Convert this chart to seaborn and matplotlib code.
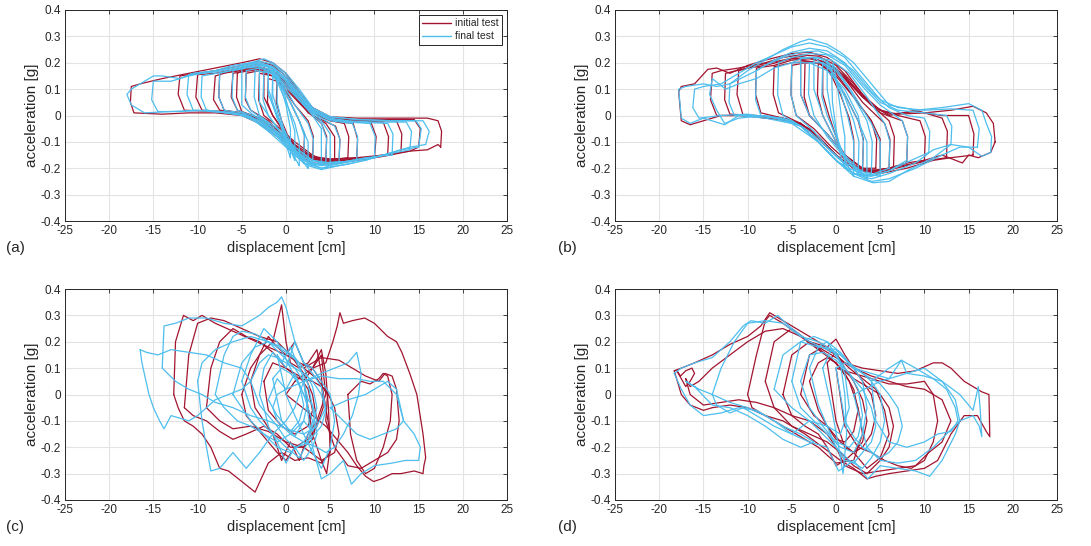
import numpy as np
import pandas as pd
import matplotlib
matplotlib.use("Agg")
import matplotlib.pyplot as plt
from matplotlib.lines import Line2D
import seaborn as sns

# --- colours / labels ---
RED = "#A2142F"
BLUE = "#4DBEEE"
SERIES = ["initial test", "final test"]
PANELS = ["(a)", "(b)", "(c)", "(d)"]
X_TICKS = [-25, -20, -15, -10, -5, 0, 5, 10, 15, 20, 25]
Y_TICKS = [-0.4, -0.3, -0.2, -0.1, 0, 0.1, 0.2, 0.3, 0.4]
Y_TICK_LABELS = ["-0.4", "-0.3", "-0.2", "-0.1", "0", "0.1", "0.2", "0.3", "0.4"]

# --- panel (a): loops (displacement cm, acceleration g) ---
a_init_x = [
    [17.5, 17.6, 17.2, 16, 12, 8, 5, 3, 1.5, 0, -1.5, -3, -5, -8, -11, -14, -16.5, -17.5, -17.6, -17.2, -14, -11, -8, -5, -3, -1, 1, 3, 5, 8, 11, 14, 16, 17.2, 17.5],
    [15, 15.2, 14.5, 12, 8, 5, 3, 1.5, 0, -1.5, -3, -5, -8, -11, -12, -12.2, -11.5, -8, -5, -3, -1, 1, 3, 5, 8, 11, 14, 15],
    [13, 13.1, 12.5, 10, 7, 5, 3, 1.5, 0, -1.5, -3, -5, -8, -10, -10.2, -9.5, -7, -5, -3, -1, 1, 3, 5, 8, 11, 13],
    [11.5, 11.6, 11, 8, 5, 3, 1.5, 0, -1.5, -3, -5, -5.5, -5.6, -5, -3, -1, 1, 3, 5, 8, 11.5],
    [10, 10.2, 9.6, 7, 5, 3, 1.5, 0, -1.5, -3, -5, -7, -8, -8.2, -7.5, -5, -3, -1, 1, 3, 5, 8, 10],
    [8, 8.1, 7.6, 5, 3, 1.5, 0, -1.5, -3, -5, -6, -6.2, -5.5, -3, -1, 1, 3, 5, 8],
    [7, 7.1, 6.6, 5, 3, 1.5, 0, -1.5, -3, -5, -7.5, -7.6, -7, -5, -3, -1, 1, 3, 5, 7],
    [6, 6.1, 5.6, 3, 1.5, 0, -1.5, -3, -4.5, -4.6, -4, -2, 0, 2, 4, 6],
    [5.5, 5.5, 4.5, 2.5, 0.5, -1, -2.5, -2.5, -1.5, 0.5, 2.5, 4, 5.5],
    [4.5, 4.6, 4, 2, 0, -1.5, -3, -3.1, -2.5, -1, 1, 3, 4.5],
    [3, 3.1, 2.5, 1, 0, -1, -2, -2.1, -1.5, 0, 1.5, 3],
    [2, 2.1, 1.5, 0.5, -0.5, -1, -1.1, -0.5, 0.5, 1.5, 2],
]
a_init_y = [
    [-0.12, -0.06, -0.02, -0.01, -0.01, -0.01, -0.005, 0.03, 0.09, 0.16, 0.2, 0.215, 0.2, 0.18, 0.16, 0.14, 0.12, 0.11, 0.05, 0.01, 0.005, 0.01, 0.01, 0.0, -0.03, -0.08, -0.14, -0.18, -0.185, -0.17, -0.155, -0.135, -0.13, -0.11, -0.12],
    [-0.12, -0.05, -0.015, -0.015, -0.015, -0.01, 0.02, 0.08, 0.15, 0.19, 0.205, 0.19, 0.17, 0.155, 0.15, 0.08, 0.02, 0.015, 0.005, -0.02, -0.07, -0.13, -0.17, -0.175, -0.165, -0.15, -0.135, -0.12],
    [-0.14, -0.07, -0.02, -0.02, -0.015, -0.01, 0.02, 0.07, 0.14, 0.18, 0.195, 0.18, 0.16, 0.155, 0.07, 0.02, 0.015, 0.005, -0.02, -0.07, -0.12, -0.165, -0.17, -0.16, -0.15, -0.14],
    [-0.15, -0.08, -0.025, -0.02, -0.015, 0.015, 0.07, 0.13, 0.17, 0.18, 0.17, 0.16, 0.07, 0.015, -0.01, -0.06, -0.12, -0.165, -0.175, -0.165, -0.15],
    [-0.16, -0.08, -0.025, -0.02, -0.015, 0.02, 0.07, 0.13, 0.17, 0.185, 0.175, 0.16, 0.15, 0.06, 0.02, 0.01, -0.015, -0.06, -0.12, -0.16, -0.165, -0.16, -0.16],
    [-0.165, -0.09, -0.03, -0.02, 0.01, 0.06, 0.12, 0.16, 0.175, 0.165, 0.16, 0.07, 0.02, -0.01, -0.05, -0.11, -0.155, -0.165, -0.165],
    [-0.16, -0.08, -0.03, -0.02, 0.01, 0.06, 0.12, 0.165, 0.18, 0.17, 0.16, 0.07, 0.02, 0.01, -0.015, -0.06, -0.12, -0.16, -0.17, -0.16],
    [-0.17, -0.09, -0.04, 0.0, 0.05, 0.11, 0.15, 0.17, 0.16, 0.06, 0.02, -0.02, -0.09, -0.14, -0.165, -0.17],
    [-0.17, -0.08, -0.03, 0.01, 0.1, 0.16, 0.18, 0.07, 0.0, -0.1, -0.16, -0.18, -0.17],
    [-0.175, -0.08, -0.03, 0.03, 0.1, 0.15, 0.16, 0.06, 0.0, -0.04, -0.1, -0.15, -0.175],
    [-0.17, -0.08, -0.02, 0.04, 0.09, 0.13, 0.14, 0.05, 0.0, -0.07, -0.13, -0.17],
    [-0.16, -0.07, -0.02, 0.05, 0.11, 0.14, 0.05, -0.02, -0.1, -0.14, -0.16],
]
a_final_x = [
    [15.8, 16.2, 15.5, 12, 8, 5, 3, 1.5, 0, -1.5, -2.5, -4, -6, -8, -10.5, -12, -14, -15, -16.5, -17.5, -18, -17.5, -16, -13, -10, -7, -5, -3, -1, 1, 2.5, 4, 6, 9, 12, 14, 15.8],
    [15, 15.3, 14.7, 12, 8, 5, 3, 1.5, 0, -1.5, -3, -5, -8, -11, -13, -15, -15.2, -14.5, -12, -9, -6, -4, -2, 0, 2, 4, 7, 10, 13, 15],
    [14, 14.2, 13.6, 10, 7, 5, 3, 1.5, 0, -1.5, -3, -5, -8, -11, -11.2, -10.5, -8, -5, -3, -1, 1, 3, 5, 8, 11, 14],
    [12, 12.1, 11.5, 8, 5, 3, 1.5, 0, -1.5, -3, -5, -7, -9.5, -9.6, -9, -6, -4, -2, 0, 2, 4, 6, 9, 12],
    [10, 10.1, 9.5, 7, 5, 3, 1.5, 0, -1.5, -3, -5, -7.5, -7.6, -7, -5, -3, -1, 1, 3, 5, 7.5, 10],
    [8, 8.1, 7.5, 5, 3, 1.5, 0, -1.5, -3, -4.5, -6, -6.1, -5.5, -3, -1, 1, 3, 5, 8],
    [6, 6.1, 5.5, 3, 1.5, 0, -1.5, -3, -4.5, -4.6, -4, -2, 0, 2, 4, 6],
    [5, 5, 4, 2, 0, -2, -4, -5, -5, -4, -2, 0, 2, 4, 5],
    [4.5, 4.6, 4, 2, 0, -1.5, -3.5, -3.6, -3, -1, 1, 3, 4.5],
    [4, 4, 3, 1.5, 0, -1, -2, -3, -3, -2, -0.5, 1, 2.5, 4],
    [3, 3.1, 2.5, 1, 0, -1, -2.5, -2.6, -2, 0, 1.5, 3],
    [2.5, 2.5, 1.5, 0.5, -0.5, -2, -2, -1, 0.5, 1.5, 2.5],
    [2, 2.1, 1.5, 0.5, -0.5, -1.5, -1.6, -1, 0, 1, 2],
    [1.5, 1.5, 1, 0, -1, -2, -2, -1, 0, 1, 1.5],
    [1, 1, 0.5, 0, -0.5, -1, -1, -0.5, 0, 0.5, 1],
    [0.5, 0.5, 0, -0.5, -1.5, -1.5, -1, -0.5, 0, 0.5],
]
a_final_y = [
    [-0.11, -0.06, -0.02, -0.02, -0.015, -0.005, 0.03, 0.1, 0.16, 0.2, 0.215, 0.2, 0.19, 0.17, 0.16, 0.14, 0.15, 0.15, 0.12, 0.1, 0.08, 0.04, 0.01, 0.015, 0.02, 0.01, 0.0, -0.03, -0.08, -0.15, -0.19, -0.205, -0.19, -0.17, -0.14, -0.12, -0.11],
    [-0.12, -0.05, -0.02, -0.02, -0.015, -0.005, 0.025, 0.09, 0.15, 0.195, 0.205, 0.19, 0.17, 0.15, 0.13, 0.13, 0.06, 0.015, 0.015, 0.02, 0.01, -0.01, -0.06, -0.12, -0.18, -0.2, -0.185, -0.16, -0.13, -0.12],
    [-0.13, -0.06, -0.025, -0.025, -0.02, -0.01, 0.02, 0.08, 0.14, 0.185, 0.2, 0.185, 0.165, 0.155, 0.08, 0.02, 0.015, 0.005, -0.02, -0.07, -0.13, -0.18, -0.19, -0.17, -0.15, -0.13],
    [-0.15, -0.07, -0.03, -0.025, -0.015, 0.015, 0.08, 0.14, 0.18, 0.195, 0.18, 0.165, 0.15, 0.07, 0.02, 0.01, -0.005, -0.05, -0.11, -0.17, -0.19, -0.18, -0.16, -0.15],
    [-0.16, -0.08, -0.03, -0.025, -0.015, 0.02, 0.08, 0.14, 0.18, 0.19, 0.18, 0.16, 0.07, 0.02, 0.01, -0.02, -0.07, -0.13, -0.18, -0.185, -0.17, -0.16],
    [-0.17, -0.08, -0.03, -0.02, 0.015, 0.07, 0.13, 0.17, 0.185, 0.18, 0.17, 0.07, 0.02, -0.01, -0.06, -0.12, -0.17, -0.18, -0.17],
    [-0.175, -0.09, -0.04, 0.01, 0.06, 0.12, 0.165, 0.18, 0.17, 0.07, 0.02, -0.03, -0.1, -0.16, -0.18, -0.175],
    [-0.19, -0.07, -0.02, 0.05, 0.14, 0.19, 0.2, 0.19, 0.04, 0.01, -0.04, -0.11, -0.17, -0.2, -0.19],
    [-0.18, -0.09, -0.03, 0.04, 0.11, 0.16, 0.17, 0.07, 0.0, -0.05, -0.12, -0.17, -0.18],
    [-0.19, -0.05, 0.0, 0.06, 0.13, 0.17, 0.19, 0.19, 0.05, 0.0, -0.07, -0.14, -0.18, -0.19],
    [-0.19, -0.09, -0.03, 0.04, 0.1, 0.15, 0.17, 0.06, 0.0, -0.09, -0.15, -0.19],
    [-0.2, -0.1, -0.02, 0.05, 0.12, 0.18, 0.08, 0.0, -0.1, -0.16, -0.2],
    [-0.18, -0.08, -0.02, 0.05, 0.11, 0.15, 0.05, -0.01, -0.08, -0.14, -0.18],
    [-0.19, -0.1, -0.03, 0.05, 0.13, 0.19, 0.1, 0.0, -0.09, -0.16, -0.19],
    [-0.17, -0.06, 0.0, 0.06, 0.12, 0.16, 0.05, -0.02, -0.08, -0.13, -0.17],
    [-0.16, -0.05, 0.04, 0.1, 0.18, 0.08, 0.02, -0.05, -0.11, -0.16],
]

# --- panel (b) ---
b_init_x = [
    [18, 17.8, 17, 15.5, 13, 10, 7, 5, 3, 1, -1, -3, -5, -8, -10, -12, -13.5, -14.5, -16, -17.5, -17.8, -17.5, -16.5, -15, -13, -10, -7, -4, -2, 0, 2, 4, 6, 9, 12, 14.3, 15, 16.1, 17.5, 18],
    [15.5, 15.6, 15, 12, 9, 6, 4, 2, 0, -2, -4, -6, -8, -11, -13, -14, -14.2, -13.5, -11, -8, -5, -3, -1, 1, 3, 5, 8, 11, 13, 15.5],
    [12.5, 12.6, 12, 9, 6, 4, 2, 0, -2, -4, -6, -9, -11, -11.2, -10.5, -8, -5, -3, -1, 1, 3, 5, 8, 10.5, 12.5],
    [10, 10.1, 9.5, 7, 5, 3, 1, -1, -3, -5, -7, -9, -9.1, -8.5, -6, -4, -2, 0, 2, 4, 6, 8, 10],
    [8, 8.1, 7.5, 5, 3, 1, -1, -3, -5, -7, -7.1, -6.5, -4, -2, 0, 2, 4, 6, 8],
    [6, 6.1, 5.5, 3, 1, -1, -3, -5, -8, -10, -12.5, -12.6, -12, -9, -6, -4, -2, 0, 2, 4, 6],
    [6.5, 6.6, 6, 4, 2, 0, -2, -3.5, -5, -5.1, -4.5, -2.5, -0.5, 1.5, 3.5, 5, 6.5],
    [5, 5, 4, 2, 0, -2, -4, -4, -3, -1, 1, 3, 5],
    [4.5, 4.6, 4, 2, 0, -2, -3.5, -3.6, -3, -1, 1, 3, 4.5],
    [3, 3.1, 2.5, 1, -0.5, -2, -2.1, -1.5, 0, 1.5, 3],
    [2, 2, 1.5, 0.5, -0.5, -1.5, -1.5, -0.8, 0.2, 1, 2],
]
b_init_y = [
    [-0.1, -0.03, 0.01, 0.035, 0.02, 0.01, 0.005, 0.02, 0.08, 0.17, 0.22, 0.24, 0.235, 0.21, 0.19, 0.16, 0.18, 0.175, 0.12, 0.11, 0.09, -0.02, -0.035, -0.02, 0.0, 0.0, -0.01, -0.03, -0.08, -0.15, -0.2, -0.215, -0.2, -0.18, -0.15, -0.18, -0.15, -0.16, -0.14, -0.1],
    [-0.15, -0.07, 0.0, 0.0, 0.015, 0.005, 0.04, 0.12, 0.19, 0.225, 0.23, 0.22, 0.2, 0.18, 0.17, 0.16, 0.06, 0.0, 0.0, -0.005, -0.02, -0.05, -0.12, -0.18, -0.21, -0.22, -0.2, -0.17, -0.16, -0.15],
    [-0.16, -0.06, -0.01, 0.02, 0.0, 0.04, 0.11, 0.18, 0.21, 0.225, 0.21, 0.19, 0.17, 0.08, 0.0, -0.01, -0.02, -0.06, -0.12, -0.18, -0.21, -0.215, -0.19, -0.17, -0.16],
    [-0.17, -0.08, -0.02, 0.0, 0.02, 0.07, 0.15, 0.2, 0.215, 0.21, 0.19, 0.18, 0.08, 0.01, -0.01, -0.03, -0.08, -0.15, -0.2, -0.21, -0.2, -0.18, -0.17],
    [-0.18, -0.08, -0.02, 0.01, 0.07, 0.14, 0.19, 0.205, 0.2, 0.185, 0.08, 0.01, -0.03, -0.08, -0.15, -0.2, -0.21, -0.2, -0.18],
    [-0.2, -0.09, -0.03, 0.05, 0.14, 0.2, 0.22, 0.215, 0.19, 0.18, 0.16, 0.06, 0.005, 0.0, -0.01, -0.03, -0.08, -0.15, -0.2, -0.21, -0.2],
    [-0.2, -0.08, -0.02, 0.04, 0.11, 0.17, 0.2, 0.2, 0.19, 0.08, 0.0, -0.05, -0.12, -0.18, -0.21, -0.21, -0.2],
    [-0.21, -0.09, -0.02, 0.07, 0.16, 0.2, 0.21, 0.08, 0.0, -0.07, -0.15, -0.2, -0.21],
    [-0.2, -0.09, -0.02, 0.07, 0.15, 0.2, 0.2, 0.07, 0.0, -0.07, -0.15, -0.2, -0.2],
    [-0.21, -0.09, -0.02, 0.08, 0.16, 0.2, 0.08, 0.0, -0.1, -0.17, -0.21],
    [-0.2, -0.09, -0.01, 0.08, 0.15, 0.2, 0.08, 0.0, -0.1, -0.16, -0.2],
]
b_final_x = [
    [17.5, 17.6, 17, 16.5, 15, 12, 9, 6, 4, 2, 0.5, -1, -3, -4, -6, -8, -10, -12, -13.5, -15, -17, -17.8, -17.5, -16.5, -15, -12.6, -11, -8, -5, -2, 0, 2, 4.2, 6, 8, 11, 13, 15, 16.5, 17.5],
    [16, 16.2, 15.5, 13, 10, 7, 5, 3, 1, -1, -3, -5, -7, -9, -11, -13, -15, -16, -16.2, -15.5, -13, -10, -7, -4, -2, 0, 2, 4, 6, 9, 12, 14, 16],
    [13, 13.1, 12.5, 10, 7, 5, 3, 1, -1, -3, -5, -7, -9, -12, -12.1, -11.5, -9, -6, -4, -2, 0, 2, 4, 6, 9, 11, 13],
    [3, 3.1, 2.5, 1, -1, -3, -5, -7, -9, -11, -12.5, -14, -14.3, -13.5, -12.6, -11, -8, -5, -3, -1, 1, 3],
    [10.5, 10.6, 10, 8, 6, 4, 2, 0, -2, -4, -6, -8, -9, -9.1, -8.5, -6, -4, -2, 0, 2, 4, 6, 8.5, 10.5],
    [8, 8.1, 7.5, 5, 3, 1, -1, -3, -5, -6.5, -6.6, -6, -4, -2, 0, 2, 4, 6, 8],
    [6, 6.1, 5.5, 3.5, 1.5, -0.5, -2.5, -4, -5, -5.1, -4.5, -2.5, -0.5, 1.5, 3.5, 6],
    [5, 5, 4, 2, 0, -2, -4, -4, -3, -1, 1, 3, 5],
    [4, 4.1, 3.5, 1.5, 0, -1.5, -3, -3.1, -2.5, -1, 1, 2.5, 4],
    [3.5, 3.5, 2.5, 1, -0.5, -2.5, -2.5, -1.5, 0, 1.5, 3.5],
    [2.5, 2.6, 2, 1, 0, -1, -1.5, -1.6, -1, 0, 1, 2.5],
    [2, 2, 1.3, 0.5, -0.5, -1, -1, -0.5, 0.3, 1, 2],
    [1, 1, 0.6, 0.2, -0.3, -0.5, -0.4, 0, 0.5, 1],
]
b_final_y = [
    [-0.14, -0.08, -0.03, 0.02, 0.045, 0.03, 0.02, 0.04, 0.12, 0.2, 0.24, 0.27, 0.29, 0.28, 0.25, 0.21, 0.17, 0.12, 0.11, 0.12, 0.11, 0.1, -0.01, -0.03, -0.01, -0.035, 0.0, -0.01, -0.03, -0.1, -0.17, -0.23, -0.255, -0.25, -0.21, -0.16, -0.11, -0.12, -0.155, -0.14],
    [-0.12, -0.05, 0.02, 0.025, 0.02, 0.03, 0.06, 0.14, 0.22, 0.26, 0.275, 0.26, 0.23, 0.2, 0.16, 0.12, 0.11, 0.1, 0.03, -0.01, 0.0, 0.005, -0.01, -0.04, -0.1, -0.17, -0.22, -0.25, -0.24, -0.2, -0.15, -0.12, -0.12],
    [-0.11, -0.04, 0.0, 0.01, 0.02, 0.05, 0.12, 0.2, 0.245, 0.255, 0.24, 0.21, 0.17, 0.12, 0.05, 0.0, 0.0, -0.01, -0.04, -0.1, -0.17, -0.22, -0.24, -0.22, -0.18, -0.13, -0.11],
    [-0.21, -0.1, 0.0, 0.1, 0.17, 0.2, 0.2, 0.18, 0.14, 0.12, 0.1, 0.14, 0.08, 0.02, -0.03, -0.01, 0.0, -0.02, -0.06, -0.12, -0.18, -0.21],
    [-0.14, -0.06, -0.01, 0.0, 0.03, 0.09, 0.17, 0.22, 0.245, 0.24, 0.22, 0.19, 0.17, 0.06, 0.0, -0.015, -0.04, -0.1, -0.17, -0.22, -0.23, -0.21, -0.17, -0.14],
    [-0.17, -0.08, -0.02, 0.04, 0.11, 0.19, 0.23, 0.235, 0.22, 0.2, 0.08, 0.0, -0.04, -0.1, -0.17, -0.22, -0.23, -0.21, -0.17],
    [-0.2, -0.1, -0.03, 0.07, 0.16, 0.21, 0.22, 0.215, 0.2, 0.08, 0.0, -0.06, -0.14, -0.2, -0.23, -0.2],
    [-0.23, -0.1, -0.03, 0.08, 0.18, 0.22, 0.22, 0.08, 0.0, -0.07, -0.15, -0.22, -0.23],
    [-0.22, -0.1, -0.02, 0.1, 0.17, 0.2, 0.2, 0.08, 0.0, -0.08, -0.16, -0.21, -0.22],
    [-0.24, -0.1, -0.02, 0.08, 0.17, 0.22, 0.1, 0.0, -0.1, -0.18, -0.24],
    [-0.22, -0.1, -0.02, 0.07, 0.14, 0.19, 0.2, 0.07, 0.0, -0.08, -0.16, -0.22],
    [-0.23, -0.1, 0.0, 0.09, 0.17, 0.21, 0.1, 0.0, -0.1, -0.17, -0.23],
    [-0.2, -0.08, 0.0, 0.1, 0.2, 0.17, 0.05, -0.05, -0.15, -0.2],
]

# --- panel (c) ---
c_init_x = [
    [1, 3, 4.5, 5.3, 5.8, 6.1, 6.5, 7.5, 8.9, 10, 11.5, 12.5, 13.1, 14, 14.8, 15.5, 15.8, 15.6, 15.5, 14.5, 13, 12, 10.8, 9.9, 9, 8, 7, 6, 4.5, 3, 1.5, 0, 1],
    [-12.7, -12.5, -11.6, -10.5, -9.5, -8, -6, -4, -2, 0, 1.5, 3, 4, 4.5, 5, 5, 4, 2.5, 1, -0.5, -2, -3.5, -5, -6.5, -7.5, -8.5, -9.5, -10.5, -11.5, -12.2, -12.7],
    [-11.5, -11, -10, -8.5, -7, -5, -3, -1, 0.5, 2, 3, 3.5, 3, 2, 0.5, -1, -2.5, -4.5, -6, -7.5, -9, -10.5, -11.5],
    [2, 4, 6, 7.5, 9, 10.5, 11.2, 12, 12.5, 12.8, 12.5, 11.5, 10, 8.5, 7, 5.5, 4.5, 4.7, 3.5, 2],
    [-5, -4, -3, -1.5, -0.5, 0, 0.5, 1.5, 2.5, 3.5, 4, 4.2, 3.5, 2.5, 1, 0, -1, -2, -3.5, -4.5, -5],
    [-9, -8.5, -7.5, -6, -4.5, -3, -1.5, 0, 1.5, 3, 4.5, 5.5, 6, 5.5, 4, 2, 0, -2, -4, -6, -7.5, -9],
    [-4, -3, -2, -1, 0, 1, 2, 3, 4, 4.5, 3.5, 2.5, 1.5, 0.5, -0.5, -1.5, -2.5, -3.5, -4],
    [2, 3, 4, 4.5, 4.8, 5, 4.6, 4, 3, 2],
    [-2.5, -1.5, 0, 1.5, 2.5, 3, 2.5, 1, -0.5, -2, -2.5],
    [7, 8.5, 9.5, 10.5, 11, 11.5, 12, 11.8, 11, 10, 9, 8, 7.3, 7],
]
c_init_y = [
    [0.05, 0.1, 0.12, 0.2, 0.26, 0.31, 0.27, 0.28, 0.29, 0.27, 0.22, 0.2, 0.16, 0.08, 0.0, -0.15, -0.24, -0.27, -0.3, -0.29, -0.3, -0.3, -0.32, -0.33, -0.31, -0.27, -0.22, -0.18, -0.12, -0.08, -0.04, 0.0, 0.05],
    [0.0, 0.2, 0.3, 0.28, 0.3, 0.27, 0.24, 0.21, 0.18, 0.15, 0.12, 0.1, 0.05, -0.05, -0.15, -0.22, -0.26, -0.24, -0.25, -0.22, -0.26, -0.37, -0.33, -0.29, -0.28, -0.2, -0.15, -0.12, -0.1, -0.05, 0.0],
    [-0.05, 0.15, 0.27, 0.29, 0.28, 0.25, 0.22, 0.2, 0.15, 0.08, 0.0, -0.1, -0.17, -0.2, -0.2, -0.15, -0.12, -0.15, -0.17, -0.14, -0.1, -0.08, -0.05],
    [0.1, 0.14, 0.13, 0.1, 0.07, 0.05, 0.08, 0.07, 0.02, -0.1, -0.17, -0.22, -0.25, -0.28, -0.27, -0.2, -0.1, 0.0, 0.06, 0.1],
    [0.0, 0.1, 0.15, 0.2, 0.34, 0.2, 0.12, 0.1, 0.12, 0.17, 0.08, -0.05, -0.12, -0.17, -0.2, -0.25, -0.22, -0.18, -0.12, -0.08, 0.0],
    [-0.05, 0.1, 0.2, 0.25, 0.22, 0.2, 0.16, 0.1, 0.06, 0.05, 0.02, -0.05, -0.15, -0.22, -0.25, -0.2, -0.18, -0.14, -0.12, -0.13, -0.1, -0.05],
    [0.05, 0.15, 0.22, 0.18, 0.15, 0.2, 0.12, 0.1, 0.15, 0.0, -0.1, -0.15, -0.25, -0.18, -0.25, -0.15, -0.1, -0.05, 0.05],
    [0.05, 0.1, 0.17, 0.08, -0.05, -0.2, -0.3, -0.25, -0.15, 0.05],
    [0.05, 0.12, 0.1, 0.07, 0.02, -0.06, -0.12, -0.15, -0.12, -0.06, 0.05],
    [0.0, 0.05, 0.04, 0.06, 0.08, 0.07, 0.0, -0.1, -0.2, -0.28, -0.3, -0.25, -0.15, 0.0],
]
c_final_x = [
    [-16.5, -16.3, -15.5, -15, -14.3, -13.8, -13, -12, -11, -10, -9, -8, -6.5, -5, -4, -5, -7, -9, -11, -13, -14.5, -15.8, -16.5],
    [-14, -13.8, -12.5, -11, -9, -7, -5, -3, -2, -1, -0.5, 0, 1, 2, 3, 4, 4.5, 3.5, 2, 0, -2, -4, -6, -8, -9.5, -11, -12.5, -14],
    [-10, -9.5, -9, -8.5, -7.5, -6, -4.5, -3, -1.5, 0, 1, 2, 1.5, 0, -2, -4, -6, -8, -9.5, -10],
    [2, 4, 6, 8, 9.5, 11, 12.5, 13.3, 14.5, 15.2, 15, 13.5, 12, 10, 8.5, 7.4, 6.5, 5, 4, 3, 2],
    [0, 2, 4, 5.5, 7, 8, 8.5, 8.2, 7.5, 6.5, 5.5, 4.5, 3.5, 2, 0.5, -1, -1.5, -1, 0],
    [5, 7, 9, 10.5, 11.5, 12.5, 13.3, 12.5, 11, 9.5, 8, 6.5, 5],
    [-4, -3, -2, -1, 0, 1, 2, 3, 4, 4.5, 4, 3, 2, 1, 0, -1, -2, -3, -4],
    [-6, -5, -3.5, -2, -0.5, 1, 2, 3, 3.5, 3, 2, 0.5, -1, -2.5, -4, -5, -6],
    [-8, -7, -6, -5, -3.5, -2, -0.5, 1, 2, 2.5, 2, 0.5, -1, -2.5, -4, -5.5, -7, -8],
    [-3, -2.5, -1.5, -0.5, 0.5, 1.5, 2.5, 3, 3.5, 3, 2, 1, 0, -1, -2, -2.5, -3],
    [-1, 0, 1, 2, 3, 4, 5, 5.5, 5, 4, 3, 2, 1, 0, -1],
    [-5, -4, -2.5, -1, 0.5, 2, 3, 2.5, 1.5, 0, -1.5, -3, -4, -5],
    [-2, -1, 0, 1, 2, 3, 3.5, 3, 2, 1, 0, -1, -2],
    [-1.5, -0.5, 0.5, 1.5, 2, 1.5, 0.5, -0.5, -1.5],
]
c_final_y = [
    [0.17, 0.12, 0.0, -0.05, -0.1, -0.13, -0.08, -0.09, -0.1, -0.08, -0.05, -0.02, 0.0, 0.02, 0.05, 0.1, 0.12, 0.15, 0.16, 0.17, 0.15, 0.16, 0.17],
    [0.1, 0.26, 0.27, 0.29, 0.29, 0.27, 0.26, 0.3, 0.33, 0.35, 0.37, 0.33, 0.2, 0.12, 0.08, 0.03, -0.05, -0.12, -0.15, -0.13, -0.1, -0.08, -0.05, -0.03, 0.0, 0.02, 0.05, 0.1],
    [0.05, -0.1, -0.2, -0.29, -0.28, -0.22, -0.28, -0.22, -0.15, -0.1, -0.05, 0.05, 0.12, 0.16, 0.2, 0.22, 0.2, 0.17, 0.12, 0.05],
    [0.05, 0.07, 0.06, 0.06, 0.05, 0.05, 0.0, -0.1, -0.15, -0.2, -0.25, -0.25, -0.26, -0.27, -0.3, -0.34, -0.25, -0.3, -0.32, -0.2, 0.05],
    [0.02, 0.05, 0.08, 0.1, 0.12, 0.16, 0.08, 0.0, -0.08, -0.15, -0.2, -0.22, -0.2, -0.18, -0.15, -0.1, -0.05, 0.0, 0.02],
    [-0.05, -0.02, 0.0, 0.03, 0.05, 0.02, -0.1, -0.13, -0.15, -0.17, -0.15, -0.1, -0.05],
    [0.05, 0.12, 0.15, 0.14, 0.12, 0.1, 0.08, 0.05, 0.0, -0.06, -0.12, -0.16, -0.19, -0.2, -0.17, -0.12, -0.08, -0.04, 0.05],
    [0.0, 0.12, 0.18, 0.2, 0.18, 0.14, 0.1, 0.03, -0.05, -0.12, -0.18, -0.22, -0.2, -0.15, -0.1, -0.05, 0.0],
    [0.0, 0.15, 0.22, 0.24, 0.23, 0.2, 0.15, 0.1, 0.05, -0.02, -0.1, -0.15, -0.18, -0.15, -0.12, -0.1, -0.05, 0.0],
    [0.0, 0.1, 0.16, 0.12, 0.18, 0.1, 0.04, -0.05, -0.15, -0.2, -0.25, -0.2, -0.26, -0.18, -0.12, -0.05, 0.0],
    [0.15, 0.1, 0.2, 0.12, 0.1, 0.05, 0.0, -0.1, -0.2, -0.28, -0.22, -0.15, -0.08, 0.0, 0.15],
    [0.05, 0.15, 0.25, 0.2, 0.1, 0.0, -0.1, -0.18, -0.24, -0.2, -0.15, -0.1, -0.05, 0.05],
    [-0.02, 0.06, 0.02, 0.08, 0.0, -0.04, -0.1, -0.14, -0.1, -0.16, -0.12, -0.08, -0.02],
    [0.06, 0.1, 0.08, 0.04, -0.04, -0.1, -0.14, -0.1, 0.06],
]

# --- panel (d) ---
d_init_x = [
    [-18.3, -17.5, -16, -14, -12, -10, -8.5, -7.5, -6.5, -5, -3, -1, 1, 3, 5, 7, 9, 11, 12, 13, 14.5, 16.5, 17.3, 17.4, 17, 16, 14.5, 13, 11.5, 10, 8, 6, 4.5, 3.5, 2, 0.5, -1.5, -3.5, -6, -8, -10, -12, -14, -15, -16.5, -17.5, -18.3],
    [-17, -16.5, -15.5, -14, -12, -10, -8, -6, -4, -2, 0, 2, 4, 6, 8, 10, 12, 13, 12, 10.5, 9, 7, 5, 3, 1, 0, -1, -3, -5, -7, -9, -11, -13, -15, -16.5, -17],
    [-10, -9, -8, -7.5, -6, -4, -2, 0, 1.5, 2.5, 3, 2, 0, -2, -4, -6, -8, -9.5, -10],
    [0, 2, 4, 6, 8, 10, 11, 11.5, 11, 10, 8.5, 7, 5.5, 4, 2.5, 1, 0],
    [-6, -5, -3, -1, 0, 1, 2, 3, 4, 4.5, 4, 3, 2, 1, 0, -1, -2, -3.5, -5, -6],
    [-8, -7, -5, -3, -1, 0.5, 2, 3.5, 5, 6, 6.5, 6, 5, 3.5, 2, 0.5, -1, -3, -5, -7, -8],
    [-4, -3, -1.5, 0, 1.5, 3, 4.5, 5.5, 6, 5, 3.5, 2, 0.5, -1, -2.5, -4],
    [-3, -2, -1, 0, 1, 2, 2.5, 2, 1, 0, -1, -2, -3],
    [-1, 0, 1, 2, 3, 3.5, 3, 2, 1, 0, -1],
    [-18, -17.5, -17, -16.5, -16, -16.3, -17, -17.6, -18],
]
d_init_y = [
    [0.09, 0.1, 0.12, 0.15, 0.19, 0.22, 0.26, 0.31, 0.29, 0.26, 0.22, 0.18, 0.12, 0.1, 0.09, 0.08, 0.09, 0.12, 0.12, 0.1, 0.05, 0.01, 0.0, -0.16, -0.14, -0.08, -0.08, -0.15, -0.25, -0.28, -0.29, -0.3, -0.31, -0.32, -0.28, -0.25, -0.2, -0.15, -0.1, -0.08, -0.05, -0.04, -0.05, -0.06, -0.04, 0.0, 0.09],
    [0.06, 0.03, 0.05, 0.1, 0.15, 0.2, 0.24, 0.25, 0.22, 0.18, 0.14, 0.1, 0.07, 0.05, 0.03, 0.02, -0.02, -0.1, -0.18, -0.22, -0.27, -0.28, -0.29, -0.3, -0.27, -0.2, -0.15, -0.1, -0.08, -0.05, -0.03, -0.02, -0.03, -0.04, 0.0, 0.06],
    [0.0, 0.15, 0.28, 0.3, 0.27, 0.22, 0.17, 0.12, 0.05, -0.05, -0.15, -0.25, -0.26, -0.2, -0.16, -0.12, -0.08, -0.05, 0.0],
    [0.1, 0.08, 0.06, 0.04, 0.04, 0.05, 0.0, -0.1, -0.18, -0.25, -0.28, -0.27, -0.25, -0.22, -0.2, -0.12, 0.1],
    [0.0, 0.15, 0.2, 0.18, 0.21, 0.15, 0.1, 0.05, 0.0, -0.08, -0.15, -0.2, -0.22, -0.25, -0.27, -0.2, -0.15, -0.12, -0.08, 0.0],
    [0.05, 0.2, 0.25, 0.2, 0.15, 0.1, 0.06, 0.03, 0.0, -0.05, -0.12, -0.2, -0.25, -0.3, -0.27, -0.22, -0.18, -0.15, -0.12, -0.05, 0.05],
    [0.0, 0.15, 0.18, 0.15, 0.1, 0.06, 0.02, -0.06, -0.15, -0.24, -0.28, -0.22, -0.18, -0.12, -0.08, 0.0],
    [0.05, 0.12, 0.14, 0.12, 0.08, 0.02, -0.06, -0.14, -0.18, -0.17, -0.12, -0.06, 0.05],
    [0.12, 0.16, 0.1, 0.05, -0.02, -0.1, -0.18, -0.22, -0.2, -0.1, 0.12],
    [0.09, 0.06, 0.03, 0.05, 0.08, 0.1, 0.09, 0.07, 0.09],
]
d_final_x = [
    [-18.3, -17.5, -16, -14, -12, -10.5, -9.6, -8, -6.6, -5, -3, -1, 0.5, 2, 4, 6, 7.4, 8, 10, 12, 13.5, 14, 13.5, 12, 10.6, 9, 7, 5, 3.6, 2, 0.3, -1, -3, -5, -7, -9, -11, -13, -15, -16.5, -17.5, -18.3],
    [2, 5, 8, 10, 12, 14, 15.5, 16.1, 16.3, 16.5, 16.2, 15.5, 14, 12.5, 11, 9, 7, 5, 3.5, 2],
    [-14, -13, -11.5, -10, -8, -6, -4, -2, 0, 1, 1.5, 0.5, -1, -3, -5, -7, -9, -10.5, -12, -13.5, -14],
    [-7, -6, -4, -2, 0, 1.5, 3, 4, 5, 5.5, 5, 4, 3, 1.5, 0, -1.5, -3, -5, -7],
    [-4, -3, -1.5, 0, 1.5, 2.5, 3, 2.5, 1.5, 0, -1.5, -3, -4],
    [4, 6, 7.4, 9, 11, 12.5, 13.5, 13.8, 13, 11.5, 10, 8, 6, 4.5, 4],
    [-17, -15.5, -14, -12, -10, -8, -6, -4, -2.5, -4, -6, -8, -10, -12, -14, -16, -17],
    [-3, -2, -1, 0, 1, 2, 3, 4, 4.5, 4, 3, 2, 1, 0, -1, -2, -3],
    [-5, -4, -2.5, -1, 0.5, 2, 3, 3.5, 3, 2, 0.5, -1, -2.5, -4, -5],
    [0, 1, 2, 3, 4, 5, 6, 7, 7.5, 7, 6, 5, 4, 3, 2, 1, 0],
    [-1.5, -0.5, 0.5, 1, 1.2, 0.8, 0.3, -0.5, -1.5],
]
d_final_y = [
    [0.08, 0.1, 0.12, 0.14, 0.2, 0.26, 0.28, 0.27, 0.3, 0.25, 0.2, 0.17, 0.15, 0.1, 0.08, 0.06, 0.13, 0.08, 0.1, 0.05, -0.02, -0.1, -0.15, -0.25, -0.31, -0.29, -0.28, -0.27, -0.32, -0.25, -0.29, -0.2, -0.18, -0.15, -0.1, -0.06, -0.05, -0.07, -0.08, -0.04, 0.02, 0.08],
    [0.0, 0.05, 0.08, 0.07, 0.05, 0.0, -0.06, 0.03, -0.05, -0.16, -0.12, -0.08, -0.1, -0.15, -0.2, -0.25, -0.26, -0.25, -0.2, 0.0],
    [0.0, 0.1, 0.2, 0.27, 0.28, 0.27, 0.22, 0.2, 0.16, 0.08, -0.05, -0.15, -0.12, -0.1, -0.15, -0.12, -0.08, -0.05, -0.07, -0.04, 0.0],
    [0.02, 0.15, 0.2, 0.18, 0.17, 0.12, 0.08, 0.05, 0.0, -0.1, -0.18, -0.24, -0.28, -0.25, -0.2, -0.15, -0.1, -0.05, 0.02],
    [0.05, 0.15, 0.16, 0.13, 0.08, 0.02, -0.08, -0.16, -0.2, -0.18, -0.12, -0.05, 0.05],
    [0.05, 0.1, 0.13, 0.1, 0.06, 0.02, -0.05, -0.1, -0.14, -0.15, -0.18, -0.2, -0.18, -0.1, 0.05],
    [0.05, 0.02, 0.0, -0.03, -0.05, -0.08, -0.12, -0.15, -0.18, -0.2, -0.17, -0.12, -0.08, -0.05, -0.04, 0.03, 0.05],
    [0.1, 0.18, 0.2, 0.15, 0.1, 0.06, 0.02, -0.05, -0.12, -0.18, -0.22, -0.26, -0.25, -0.2, -0.12, -0.04, 0.1],
    [0.05, 0.2, 0.22, 0.2, 0.16, 0.1, 0.05, -0.05, -0.15, -0.22, -0.2, -0.15, -0.1, -0.05, 0.05],
    [0.1, 0.12, 0.1, 0.08, 0.06, 0.04, 0.0, -0.05, -0.12, -0.18, -0.22, -0.24, -0.22, -0.2, -0.16, -0.1, 0.1],
    [0.1, 0.17, 0.12, 0.0, -0.15, -0.3, -0.2, -0.05, 0.1],
]


def loops_to_frame(init_x, init_y, final_x, final_y):
    rows = []
    for label, xs, ys in [(SERIES[0], init_x, init_y), (SERIES[1], final_x, final_y)]:
        for i, (lx, ly) in enumerate(zip(xs, ys)):
            for x, y in zip(lx, ly):
                rows.append({"x": x, "y": y, "loop": f"{label}-{i}", "test": label})
    return pd.DataFrame(rows)


panel_data = [
    loops_to_frame(a_init_x, a_init_y, a_final_x, a_final_y),
    loops_to_frame(b_init_x, b_init_y, b_final_x, b_final_y),
    loops_to_frame(c_init_x, c_init_y, c_final_x, c_final_y),
    loops_to_frame(d_init_x, d_init_y, d_final_x, d_final_y),
]

sns.set_theme(style="whitegrid")
plt.rcParams["font.family"] = ["Liberation Sans", "DejaVu Sans"]

fig = plt.figure(figsize=(10.91, 5.46), dpi=100)
W, H = 1091, 546
# axes boxes in pixels: left, top, right, bottom
boxes = [(65, 10, 507, 221), (615, 10, 1057, 221), (65, 289, 507, 500), (615, 289, 1057, 500)]
label_pos = [(6, 248), (558, 248), (6, 527), (558, 527)]

for k, df in enumerate(panel_data):
    l, t, r, b = boxes[k]
    ax = fig.add_axes([l / W, 1 - b / H, (r - l) / W, (b - t) / H])
    sns.lineplot(data=df, x="x", y="y", hue="test", units="loop", estimator=None, sort=False,
                 palette={SERIES[0]: RED, SERIES[1]: BLUE}, linewidth=0.9, legend=False, ax=ax)
    ax.set_xlim(-25, 25)
    ax.set_ylim(-0.4, 0.4)
    ax.set_xticks(X_TICKS)
    ax.set_xticklabels([str(v) for v in X_TICKS])
    ax.set_yticks(Y_TICKS)
    ax.set_yticklabels(Y_TICK_LABELS)
    ax.grid(True, color="#e3e3e3", linewidth=0.8)
    ax.tick_params(direction="in", top=True, right=True, length=3, width=0.6,
                   labelsize=8.5, colors="#262626", pad=3)
    for s in ax.spines.values():
        s.set_visible(True)
        s.set_color("#262626")
        s.set_linewidth(0.7)
    ax.set_xlabel("displacement [cm]", fontsize=10.5, color="#262626", labelpad=3)
    ax.set_ylabel("acceleration [g]", fontsize=11, color="#262626", labelpad=1)
    fig.text(label_pos[k][0] / W, 1 - label_pos[k][1] / H, PANELS[k], fontsize=11,
             color="#262626", va="center", ha="left")
    if k == 0:
        handles = [Line2D([0], [0], color=RED, lw=1.0), Line2D([0], [0], color=BLUE, lw=1.0)]
        leg = ax.legend(handles, SERIES, loc="upper right", fontsize=7.5, frameon=True,
                        fancybox=False, edgecolor="#262626", framealpha=1,
                        borderpad=0.3, handlelength=2.8, handletextpad=0.4,
                        labelspacing=0.3, borderaxespad=0.5)
        leg.get_frame().set_linewidth(0.7)

fig.savefig("out.png", dpi=100)
